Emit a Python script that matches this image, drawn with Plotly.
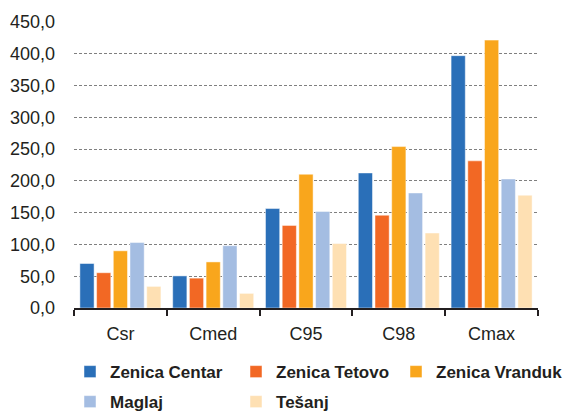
import plotly.graph_objects as go

# categories and values
categories = ["Csr", "Cmed", "C95", "C98", "Cmax"]
zenica_centar = [70.0, 50.5, 156.5, 212.5, 397.0]
zenica_tetovo = [55.5, 47.0, 130.0, 146.0, 231.5]
zenica_vranduk = [90.0, 72.5, 210.5, 254.0, 421.5]
maglaj = [103.0, 98.0, 152.0, 181.0, 203.0]
tesanj = [34.0, 23.0, 101.5, 118.0, 177.5]

# legend rows: row 1 split in two legends so the long last entry has room
series = [
    ("Zenica Centar", zenica_centar, "#2a6fb8", "legend"),
    ("Zenica Tetovo", zenica_tetovo, "#f26824", "legend"),
    ("Zenica Vranduk", zenica_vranduk, "#f9a61c", "legend3"),
    ("Maglaj", maglaj, "#a4bde2", "legend2"),
    ("Tešanj", tesanj, "#fee0b3", "legend2"),
]

fig = go.Figure()
for name, values, color, leg in series:
    fig.add_trace(go.Bar(
        x=categories,
        y=values,
        name=name,
        legend=leg,
        marker=dict(color=color, line=dict(color="rgba(255,255,255,0.6)", width=0.8)),
    ))

legend_font = dict(family="Liberation Sans, Arial, sans-serif", size=17, color="#231f20", weight="bold")
row_legend = dict(orientation="h", xanchor="left", yanchor="top",
                  entrywidth=121, entrywidthmode="pixels", font=legend_font)

fig.update_layout(
    width=565,
    height=411,
    margin=dict(l=74, r=27, t=22, b=103, autoexpand=False),
    plot_bgcolor="white",
    paper_bgcolor="white",
    barmode="group",
    bargap=0.1,
    bargroupgap=0.15,
    separators=",.",
    font=dict(family="Liberation Sans, Arial, sans-serif", size=18, color="#231f20"),
    legend=dict(row_legend, x=-0.0086, y=-0.161),
    legend2=dict(row_legend, x=-0.0086, y=-0.266),
    legend3=dict(row_legend, x=0.694, y=-0.161, entrywidth=130),
)

fig.update_yaxes(
    range=[0, 450],
    dtick=50,
    tickformat=".1f",
    showgrid=True,
    gridcolor="#7f7f7f",
    griddash="3px,2px",
    gridwidth=1,
    zeroline=False,
    showline=False,
    ticks="",
    ticklabelstandoff=18,
)

fig.update_xaxes(
    showline=True,
    linecolor="#231f20",
    linewidth=2,
    ticks="outside",
    tickson="boundaries",
    ticklen=6,
    tickwidth=2,
    tickcolor="#231f20",
    showgrid=False,
    ticklabelstandoff=8,
)

# page has a default body margin; drop it so the figure sits at the corner
fig.write_html("out.html", config={"displayModeBar": False},
               post_script="document.body.style.margin='0';")
